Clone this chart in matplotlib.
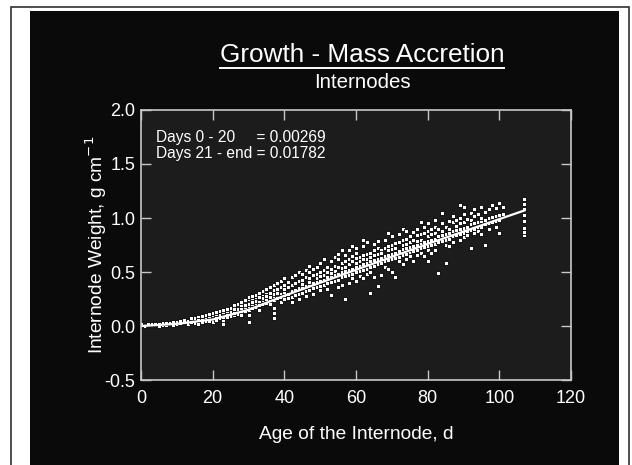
import numpy as np
import matplotlib
matplotlib.use("Agg")
import matplotlib.pyplot as plt
from matplotlib.patches import Rectangle
from matplotlib.lines import Line2D

plt.rcParams['font.family'] = ['Liberation Sans', 'DejaVu Sans']

# sampling ages (days) and the internode weights measured at each age
ages = list(range(0, 102)) + [107]
weights = [
    [0.0, 0.01, 0.02], [0.01, 0.0], [0.01, 0.02], [0.0, 0.01, 0.02], [0.01, 0.02],
    [0.01, 0.02, 0.0], [0.01, 0.03], [0.02, 0.01, 0.03], [0.02, 0.03], [0.02, 0.04, 0.01],
    [0.03, 0.02, 0.04], [0.03, 0.05], [0.03, 0.04, 0.06], [0.04, 0.05, 0.02], [0.04, 0.06, 0.07],
    [0.05, 0.03, 0.07], [0.05, 0.08, 0.02, 0.06], [0.06, 0.04, 0.09], [0.06, 0.08, 0.1, 0.05],
    [0.07, 0.09, 0.05, 0.11],
    [0.08, 0.06, 0.1, 0.12, 0.04], [0.08, 0.11, 0.06, 0.13], [0.09, 0.12, 0.07, 0.14, 0.1],
    [0.1, 0.13, 0.05, 0.02, 0.15, 0.08], [0.11, 0.14, 0.08, 0.16], [0.12, 0.15, 0.09, 0.17, 0.13],
    [0.13, 0.16, 0.1, 0.19, 0.12], [0.14, 0.18, 0.11, 0.2, 0.16], [0.16, 0.19, 0.13, 0.22, 0.1],
    [0.17, 0.21, 0.14, 0.24, 0.19],
    [0.18, 0.22, 0.15, 0.25, 0.04, 0.1, 0.2, 0.27], [0.2, 0.24, 0.17, 0.28, 0.22],
    [0.21, 0.25, 0.18, 0.29, 0.23], [0.22, 0.27, 0.19, 0.31, 0.15], [0.24, 0.28, 0.2, 0.32, 0.26],
    [0.25, 0.3, 0.21, 0.34, 0.28], [0.27, 0.31, 0.23, 0.36, 0.2],
    [0.28, 0.33, 0.24, 0.38, 0.07, 0.12, 0.17, 0.3], [0.29, 0.34, 0.26, 0.4, 0.31],
    [0.3, 0.36, 0.27, 0.42, 0.22],
    [0.31, 0.38, 0.28, 0.44, 0.25, 0.34], [0.3, 0.36, 0.41, 0.26], [0.32, 0.27, 0.38, 0.45, 0.22],
    [0.33, 0.4, 0.29, 0.47], [0.35, 0.3, 0.42, 0.25, 0.5], [0.36, 0.43, 0.31, 0.48, 0.39],
    [0.37, 0.32, 0.45, 0.52, 0.28], [0.38, 0.44, 0.33, 0.5, 0.41, 0.56], [0.4, 0.35, 0.47, 0.3, 0.53],
    [0.41, 0.48, 0.36, 0.55, 0.44],
    [0.42, 0.37, 0.5, 0.33, 0.58, 0.46], [0.43, 0.52, 0.38, 0.47, 0.62], [0.45, 0.4, 0.55, 0.34, 0.5],
    [0.46, 0.53, 0.41, 0.6, 0.29, 0.49], [0.47, 0.42, 0.56, 0.64, 0.51],
    [0.48, 0.55, 0.43, 0.62, 0.36, 0.67], [0.5, 0.45, 0.58, 0.54, 0.38, 0.7],
    [0.51, 0.6, 0.46, 0.66, 0.55, 0.25], [0.52, 0.47, 0.62, 0.57, 0.7, 0.4],
    [0.53, 0.6, 0.48, 0.65, 0.44, 0.74],
    [0.55, 0.5, 0.63, 0.58, 0.72, 0.42, 0.68], [0.56, 0.64, 0.51, 0.6, 0.46],
    [0.57, 0.52, 0.66, 0.74, 0.62, 0.44, 0.8], [0.58, 0.67, 0.53, 0.62, 0.78, 0.48],
    [0.6, 0.55, 0.68, 0.64, 0.31, 0.5], [0.61, 0.7, 0.56, 0.66, 0.76, 0.45],
    [0.62, 0.57, 0.72, 0.67, 0.37, 0.79], [0.63, 0.7, 0.58, 0.68, 0.47],
    [0.65, 0.6, 0.72, 0.8, 0.55], [0.66, 0.74, 0.61, 0.7, 0.53, 0.86],
    [0.67, 0.62, 0.75, 0.71, 0.83, 0.5], [0.68, 0.63, 0.77, 0.72, 0.45],
    [0.69, 0.64, 0.78, 0.85, 0.6], [0.71, 0.66, 0.8, 0.75, 0.57, 0.9],
    [0.72, 0.67, 0.81, 0.76, 0.88, 0.62], [0.73, 0.68, 0.83, 0.78, 0.65],
    [0.74, 0.8, 0.69, 0.87, 0.6], [0.75, 0.7, 0.84, 0.79, 0.9, 0.66],
    [0.77, 0.72, 0.85, 0.8, 0.68, 0.96], [0.78, 0.73, 0.86, 0.92, 0.65],
    [0.79, 0.74, 0.88, 0.83, 0.95, 0.6, 0.7], [0.8, 0.75, 0.9, 0.85, 0.68],
    [0.81, 0.76, 0.92, 0.86, 0.98, 0.7], [0.83, 0.78, 0.9, 0.49],
    [0.84, 0.79, 0.95, 0.88, 1.05], [0.85, 0.8, 0.92, 0.75, 0.58],
    [0.86, 0.81, 0.97, 0.9, 0.74], [0.88, 0.83, 0.96, 1.02, 0.78],
    [0.89, 0.84, 0.98, 0.93], [0.9, 0.85, 1.0, 0.8, 0.95, 1.12],
    [0.91, 0.86, 1.04, 0.96, 0.82, 1.1], [0.92, 0.88, 0.99, 0.84],
    [0.94, 0.89, 1.05, 0.98, 0.72], [0.95, 1.02, 0.9, 0.86, 1.08],
    [0.96, 0.91, 1.04, 0.88], [0.97, 1.1, 1.0, 0.85, 0.92],
    [0.98, 0.94, 1.06, 0.75], [1.0, 1.08, 0.95, 0.9],
    [1.01, 1.12, 0.96], [1.02, 0.97, 1.09, 0.92],
    [1.03, 1.14, 0.98, 0.86], [1.04, 1.1],
    [0.84, 0.87, 0.91, 0.97, 1.03, 1.08, 1.13, 1.18],
]

# fitted curve
fit_age = [0, 10, 20, 30, 40, 60, 80, 107]
fit_weight = [0.0, 0.02, 0.06, 0.15, 0.28, 0.52, 0.76, 1.07]

x = np.concatenate([[a] * len(w) for a, w in zip(ages, weights)])
y = np.concatenate([w for w in weights])

W, H = 632, 465
fig = plt.figure(figsize=(W / 100, H / 100), dpi=100, facecolor='white')

# outer frame and black panel
fig.patches.append(Rectangle((11 / W, -0.01), 618 / W, (H - 7) / H + 0.01, transform=fig.transFigure,
                             facecolor='white', edgecolor='#303030', linewidth=1.2, zorder=0))
fig.patches.append(Rectangle((30 / W, 0), 589 / W, (H - 11) / H, transform=fig.transFigure,
                             facecolor='#0a0a0a', edgecolor='none', zorder=1))

ax = fig.add_axes([141 / W, 1 - 380 / H, 430 / W, 270 / H])
ax.set_facecolor('#1c1c1c')
ax.set_zorder(2)

ax.plot(x, y, linestyle='none', marker='s', markersize=2.4, markerfacecolor='white',
        markeredgecolor='black', markeredgewidth=0.6)
ax.plot(fit_age, fit_weight, color='white', linewidth=1.6)

ax.set_xlim(0, 120)
ax.set_ylim(-0.5, 2.0)
ax.set_xticks(np.arange(0, 121, 20))
ax.set_yticks(np.arange(-0.5, 2.01, 0.5))
ax.yaxis.set_major_formatter(matplotlib.ticker.FormatStrFormatter('%.1f'))
ax.tick_params(direction='in', length=7, width=1, color='#c8c8c8', labelcolor='white',
               labelsize=13, top=True, right=True)
ax.tick_params(axis='x', pad=7)
ax.tick_params(axis='y', pad=4)
for sp in ax.spines.values():
    sp.set_color('#c8c8c8')
    sp.set_linewidth(1.2)

ax.set_xlabel('Age of the Internode, d', color='white', fontsize=13.8, labelpad=14)
ax.set_ylabel('Internode Weight, g cm$^{-1}$', color='white', fontsize=13.8, labelpad=-3)

ax.text(0.035, 0.925, 'Days 0 - 20     = 0.00269\nDays 21 - end = 0.01782',
        transform=ax.transAxes, color='white', fontsize=11.2, va='top', ha='left', linespacing=1.05)

t = fig.text(362 / W, 1 - 55 / H, 'Growth - Mass Accretion', color='white', fontsize=18.8,
             ha='center', va='center', zorder=3)
fig.text(362 / W, 1 - 82 / H, 'Internodes', color='white', fontsize=14.8,
         ha='center', va='center', zorder=3)

fig.canvas.draw()
bb = t.get_window_extent().transformed(fig.transFigure.inverted())
uy = 1 - 68.5 / H
fig.lines.append(Line2D([bb.x0, bb.x1], [uy, uy], transform=fig.transFigure,
                        color='white', linewidth=1.4, zorder=3))

fig.savefig('out.png', dpi=100, facecolor='white')
